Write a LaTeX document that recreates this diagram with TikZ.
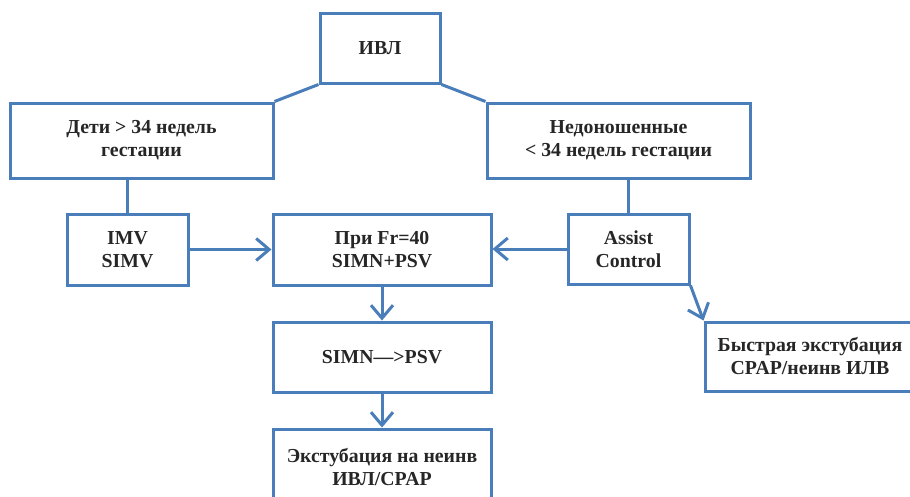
\documentclass[tikz,border=0pt]{standalone}
\usepackage{fontspec}
\setmainfont{Liberation Serif}
\usetikzlibrary{arrows.meta}
\definecolor{boxblue}{RGB}{74,126,187}
\definecolor{txt}{RGB}{38,38,38}
\begin{document}
\begin{tikzpicture}[x=1pt,y=-1pt,
  box/.style={draw=boxblue,line width=3pt,rectangle,align=center,inner sep=0pt,
    text=txt,font=\fontsize{19.8}{23}\selectfont\bfseries},
  link/.style={draw=boxblue,line width=3pt},
  arr/.style={link,-{Straight Barb[length=13pt,width=22pt]}}]
\useasboundingbox (0,0) rectangle (910,496);
\clip (0,0) rectangle (910,496);
\node[box,minimum width=120pt,minimum height=70pt] (ivl) at (380,48) {ИВЛ};
\node[box,minimum width=263pt,minimum height=75pt] (kids) at (141.5,140.5) {Дети > 34 недель\\гестации};
\node[box,minimum width=263pt,minimum height=75pt] (prem) at (618.5,140.5) {Недоношенные\\< 34 недель гестации};
\node[box,minimum width=121pt,minimum height=71pt] (imv) at (127.5,249.5) {IMV\\SIMV};
\node[box,minimum width=218pt,minimum height=71pt] (mid) at (382,249.5) {При Fr=40\\SIMN+PSV};
\node[box,minimum width=121pt,minimum height=70pt] (ac) at (628.5,249) {Assist\\Control};
\node[box,minimum width=210pt,minimum height=69pt] (fast) at (810,356.5) {Быстрая экстубация\\CPAP/неинв ИЛВ};
\node[box,minimum width=218pt,minimum height=70pt] (simn) at (382,357) {SIMN—>PSV};
\node[box,minimum width=218pt,minimum height=76pt] (ext) at (382,467) {Экстубация на неинв\\ИВЛ/CPAP};
\draw[link] (ivl.south west) -- (kids.north east);
\draw[link] (ivl.south east) -- (prem.north west);
\draw[link] (imv.north) -- (imv.north |- kids.south);
\draw[link] (ac.north) -- (ac.north |- prem.south);
\draw[arr] (imv.east) -- (imv.east -| mid.west);
\draw[arr] (ac.west) -- (ac.west -| mid.east);
\draw[arr] (ac.south east) -- (fast.north west);
\draw[arr] (mid.south) -- (simn.north);
\draw[arr] (simn.south) -- (ext.north);
\end{tikzpicture}
\end{document}
